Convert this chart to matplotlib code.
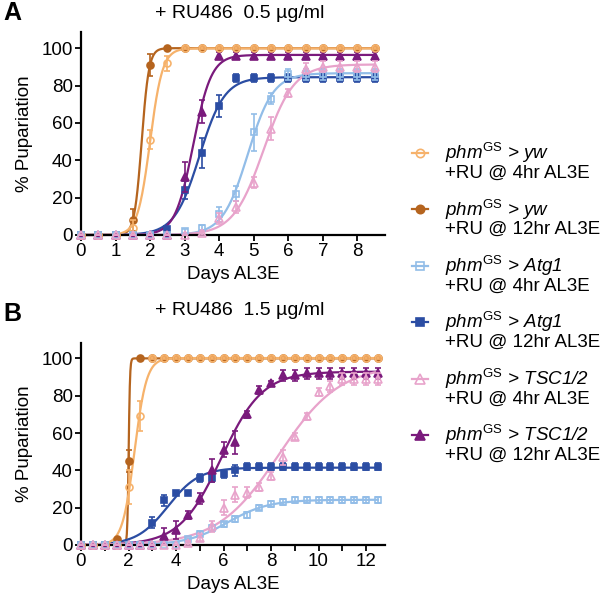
import numpy as np
import matplotlib
matplotlib.use("Agg")
import matplotlib.pyplot as plt
from matplotlib.lines import Line2D

plt.rcParams['font.family'] = ['Liberation Sans', 'DejaVu Sans']
plt.rcParams['mathtext.fontset'] = 'custom'
plt.rcParams['mathtext.it'] = 'Liberation Sans:italic'
plt.rcParams['mathtext.rm'] = 'Liberation Sans'
plt.rcParams['mathtext.sf'] = 'Liberation Sans'

# ---------------- data ----------------
series_names = ["yw", "yw", "Atg1", "Atg1", "TSC1/2", "TSC1/2"]
series_times = ["4hr", "12hr", "4hr", "12hr", "4hr", "12hr"]
colors = ["#F6B26B", "#B5641E", "#92BDE8", "#2B4DA3", "#E8A3CB", "#7A1A7C"]
markers = ["o", "o", "s", "s", "^", "^"]
filled = [False, True, False, True, False, True]

# Panel A: +RU486 0.5 ug/ml
days_A = [0, 0.5, 1, 1.5, 2, 2.5, 3, 3.5, 4, 4.5, 5, 5.5, 6, 6.5, 7, 7.5, 8, 8.5]
yw4_A   = [0, 0, 0, 4, 51, 92, 100, 100, 100, 100, 100, 100, 100, 100, 100, 100, 100, 100]
yw12_A  = [0, 0, 0, 8, 91, 100, 100, 100, 100, 100, 100, 100, 100, 100, 100, 100, 100, 100]
atg4_A  = [0, 0, 0, 0, 0, 0, 2, 4, 11, 22, 55, 73, 86, 86, 86, 86, 86, 86]
atg12_A = [0, 0, 0, 0, 0, 3, 24, 44, 69, 84, 84, 84, 84, 84, 84, 84, 84, 84]
tsc4_A  = [0, 0, 0, 0, 0, 0, 0, 1, 9, 15, 28, 57, 76, 89, 90, 90, 90, 90]
tsc12_A = [0, 0, 0, 0, 0, 0, 31, 66, 96, 96, 96, 96, 96, 96, 96, 96, 96, 96]

yw4_A_err   = [0, 0, 0, 4, 5, 4, 0.5, 0.5, 0.5, 0.5, 0.5, 0.5, 0.5, 0.5, 0.5, 0.5, 0.5, 0.5]
yw12_A_err  = [0, 0, 0, 6, 6, 0.5, 0, 0, 0, 0, 0, 0, 0, 0, 0, 0, 0, 0]
atg4_A_err  = [0, 0, 0, 0, 0, 0, 1, 1.5, 4, 4, 10, 3, 3, 3, 3, 3, 3, 3]
atg12_A_err = [0, 0, 0, 0, 0, 1, 5, 8, 6, 2, 2, 2, 2, 2, 2, 2, 2, 2]
tsc4_A_err  = [0, 0, 0, 0, 0, 0, 0, 1, 3, 3, 3, 6, 2, 3, 3, 3, 3, 3]
tsc12_A_err = [0, 0, 0, 0, 0, 0, 8, 6, 2, 2, 2, 2, 2, 2, 2, 2, 2, 2]

# Panel B: +RU486 1.5 ug/ml
days_B = [0, 0.5, 1, 1.5, 2, 2.5, 3, 3.5, 4, 4.5, 5, 5.5, 6, 6.5, 7, 7.5, 8, 8.5,
          9, 9.5, 10, 10.5, 11, 11.5, 12, 12.5]
yw4_B   = [0, 0, 0, 0, 31, 69] + [100] * 20
yw12_B  = [0, 0, 0, 3, 45, 100] + [100] * 20
atg4_B  = [0, 0, 0, 0, 0, 0, 0, 0, 0, 3, 6, 9, 11, 14, 16, 20, 22, 23, 24, 24, 24, 24, 24, 24, 24, 24]
atg12_B = [0, 0, 0, 0, 0, 0, 12, 24, 28, 28, 36, 36, 38, 40, 42, 42, 42, 42, 42, 42, 42, 42, 42, 42, 42, 42]
tsc4_B  = [0, 0, 0, 0, 0, 0, 0, 0, 0, 1, 4, 10, 20, 27, 28, 31, 37, 47, 58, 69, 82, 85, 89, 89, 89, 89]
tsc12_B = [0, 0, 0, 0, 0, 0, 0, 5, 8, 16, 25, 40, 51, 55, 70, 83, 87, 91, 91, 92, 92, 92, 92, 92, 92, 92]

yw4_B_err   = [0, 0, 0, 0, 9, 8] + [0.5] * 20
yw12_B_err  = [0, 0, 0, 1, 6, 0.5] + [0] * 20
atg4_B_err  = [0, 0, 0, 0, 0, 0, 0, 0, 0, 1, 1.5, 1.5, 1.5, 1.5, 1.5, 1.5, 1.5, 1.5, 1.5, 1.5, 1.5, 1.5, 1.5, 1.5, 1.5, 1.5]
atg12_B_err = [0, 0, 0, 0, 0, 0, 3, 3, 1, 1, 2, 2, 2, 3, 2, 2, 2, 2, 2, 2, 2, 2, 2, 2, 2, 2]
tsc4_B_err  = [0, 0, 0, 0, 0, 0, 0, 0, 0, 1, 2, 3, 4, 4, 3, 2, 2, 4, 2, 2, 2, 3, 3, 3, 3, 3]
tsc12_B_err = [0, 0, 0, 0, 0, 0, 0, 4, 5, 2, 3, 6, 4, 6, 2, 2, 1, 3, 3, 3, 3, 3, 3, 3, 3, 3]

panel_A = [(yw4_A, yw4_A_err), (yw12_A, yw12_A_err), (atg4_A, atg4_A_err),
           (atg12_A, atg12_A_err), (tsc4_A, tsc4_A_err), (tsc12_A, tsc12_A_err)]
panel_B = [(yw4_B, yw4_B_err), (yw12_B, yw12_B_err), (atg4_B, atg4_B_err),
           (atg12_B, atg12_B_err), (tsc4_B, tsc4_B_err), (tsc12_B, tsc12_B_err)]


def fit_logistic(x, y):
    x = np.asarray(x, float)
    y = np.asarray(y, float)

    def search(ks, x50s):
        K = ks[:, None, None]
        X = x50s[None, :, None]
        f = 1.0 / (1.0 + np.exp(-K * (x[None, None, :] - X)))
        top = (f * y).sum(-1) / (f * f).sum(-1)
        r = ((y - top[..., None] * f) ** 2).sum(-1)
        i, j = np.unravel_index(np.argmin(r), r.shape)
        return ks[i], x50s[j], top[i, j]

    k, x50, top = search(np.geomspace(0.3, 40, 150), np.linspace(x.min(), x.max(), 400))
    k, x50, top = search(np.linspace(k * 0.9, k * 1.1, 80), np.linspace(x50 - 0.1, x50 + 0.1, 80))
    return k, x50, top


def msize(m):
    return {"o": 5.0, "s": 4.5, "^": 5.5}[m]


def draw_panel(ax, days, panel, xmax, ymax, xticks, xticklabels):
    days = np.asarray(days, float)
    order = [1, 3, 5, 0, 2, 4]
    xs = np.linspace(days.min(), days.max(), 500)
    for z, i in enumerate(order):
        y, e = panel[i]
        k, x50, top = fit_logistic(days, y)
        ax.plot(xs, top / (1 + np.exp(-k * (xs - x50))), color=colors[i], lw=1.6,
                zorder=2 + z * 0.1, clip_on=False)
    for z, i in enumerate(order):
        y, e = panel[i]
        ax.errorbar(days, y, yerr=e, fmt=markers[i], color=colors[i], ms=msize(markers[i]),
                    mfc=colors[i] if filled[i] else "none", mec=colors[i], mew=1.2,
                    elinewidth=1.2, capsize=2.5, capthick=1.2, zorder=4 + z * 0.1,
                    clip_on=False)
    ax.set_xlim(0, xmax)
    ax.set_ylim(0, ymax)
    ax.set_xticks(xticks)
    ax.set_xticklabels(xticklabels)
    ax.set_yticks([0, 20, 40, 60, 80, 100])
    for s in ["top", "right"]:
        ax.spines[s].set_visible(False)
    for s in ["left", "bottom"]:
        ax.spines[s].set_linewidth(1.6)
    ax.tick_params(direction="out", length=4, width=1.3, labelsize=13.5, pad=2)
    ax.set_xlabel("Days AL3E", fontsize=13.5, labelpad=4)
    ax.set_ylabel("% Pupariation", fontsize=13.5, labelpad=6)


fig = plt.figure(figsize=(6.0, 5.99), dpi=100)

axA = fig.add_axes([0.135, 0.6077, 0.5067, 0.339])
draw_panel(axA, days_A, panel_A, 8.8, 108.7, list(range(0, 9)), [str(v) for v in range(0, 9)])

axB = fig.add_axes([0.135, 0.0902, 0.5067, 0.337])
xtB = list(range(0, 13))
draw_panel(axB, days_B, panel_B, 12.8, 108.2, xtB, [str(v) if v % 2 == 0 else "" for v in xtB])

fig.text(0.40, 0.977, "+ RU486  0.5 µg/ml", fontsize=14, ha="center", va="center")
fig.text(0.40, 0.482, "+ RU486  1.5 µg/ml", fontsize=14, ha="center", va="center")
fig.text(0.021, 0.979, "A", fontsize=18, fontweight="bold", ha="center", va="center")
fig.text(0.021, 0.476, "B", fontsize=18, fontweight="bold", ha="center", va="center")

# legend (manual, two-line entries)
leg_top = 0.7446
leg_step = 0.0943
line_gap = 0.0334
for i in range(6):
    yy = leg_top - i * leg_step
    fig.add_artist(Line2D([0.687, 0.713], [yy, yy], transform=fig.transFigure,
                          color=colors[i], lw=1.6))
    fig.add_artist(Line2D([0.700], [yy], transform=fig.transFigure, marker=markers[i],
                          color=colors[i], ms=msize(markers[i]) + 1,
                          mfc=colors[i] if filled[i] else "none", mec=colors[i], mew=1.2))
    fig.text(0.742, yy, r"$phm^{\mathrm{GS}}$ > " + series_names[i], fontsize=13.5,
             style="italic", ha="left", va="center")
    fig.text(0.742, yy - line_gap, "+RU @ " + series_times[i] + " AL3E", fontsize=13.5,
             ha="left", va="center")

fig.savefig("out.png", dpi=100)
